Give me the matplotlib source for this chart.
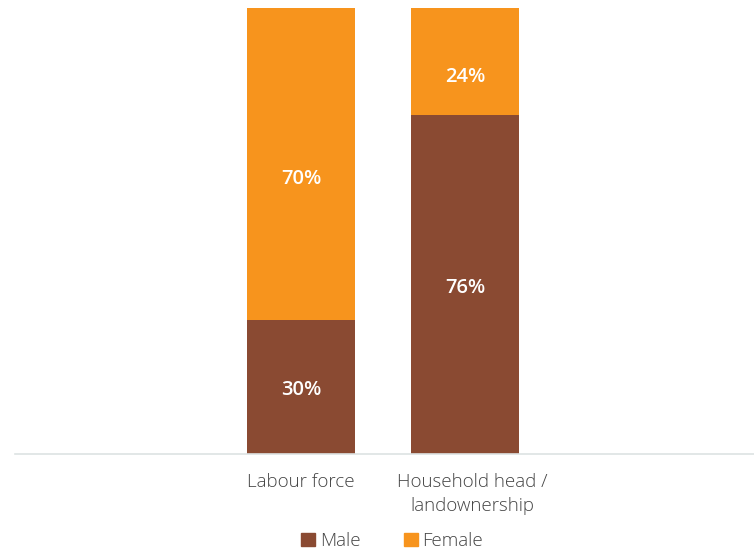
import numpy as np
import matplotlib.pyplot as plt
from matplotlib.patches import Patch
from matplotlib.transforms import offset_copy, ScaledTranslation

# data
categories = ["Labour force", "Household head /\nlandownership"]
male = [30, 76]
female = [70, 24]

brown = "#8a4a32"
orange = "#f7941d"

plt.rcParams['font.family'] = ['Open Sans', 'DejaVu Sans']

fig = plt.figure(figsize=(7.54, 5.51), dpi=100)
ax = fig.add_axes([15/754, 97/551, 739/754, 446/551])

x = np.arange(len(categories))
w = 108/164
ax.bar(x, male, w, color=brown, label="Male")
ax.bar(x, female, w, bottom=male, color=orange, label="Female")

# labels sit a little below the segment centre in the original
low_m = offset_copy(ax.transData, fig=fig, x=0, y=-3, units="dots")
low_f = offset_copy(ax.transData, fig=fig, x=0, y=-15, units="dots")
for i in range(len(categories)):
    ax.text(x[i], male[i]/2, f"{male[i]}%", ha="center", va="center",
            color="white", fontsize=14.5, fontweight="semibold", transform=low_m)
    ax.text(x[i], male[i] + female[i]/2, f"{female[i]}%", ha="center", va="center",
            color="white", fontsize=14.5, fontweight="semibold", transform=low_f)

ax.set_xlim(-286/164, 453/164)
ax.set_ylim(0, 100)
ax.set_yticks([])
ax.set_xticks(x)
ax.set_xticklabels(categories, fontsize=13.5, color="#444444", fontweight="light",
                   linespacing=1.4)
ax.tick_params(axis="x", length=0, pad=14)
# second label is nudged right a bit in the original
lab2 = ax.get_xticklabels()[1]
lab2.set_transform(lab2.get_transform() + ScaledTranslation(7/100, 0, fig.dpi_scale_trans))
for s in ["top", "right", "left"]:
    ax.spines[s].set_visible(False)
ax.spines["bottom"].set_color("#dde3e3")
ax.spines["bottom"].set_linewidth(1.2)

handles = [Patch(color=brown, label="Male"), Patch(color=orange, label="Female")]
leg = fig.legend(handles=handles, loc="center", bbox_to_anchor=(392/754, 1 - 541/551),
                 ncol=2, frameon=False, fontsize=13.5, handlelength=0.75, handleheight=0.75,
                 handletextpad=0.25, columnspacing=2.3)
for t in leg.get_texts():
    t.set_color("#444444")
    t.set_fontweight("light")

fig.savefig("out.png", dpi=100)
